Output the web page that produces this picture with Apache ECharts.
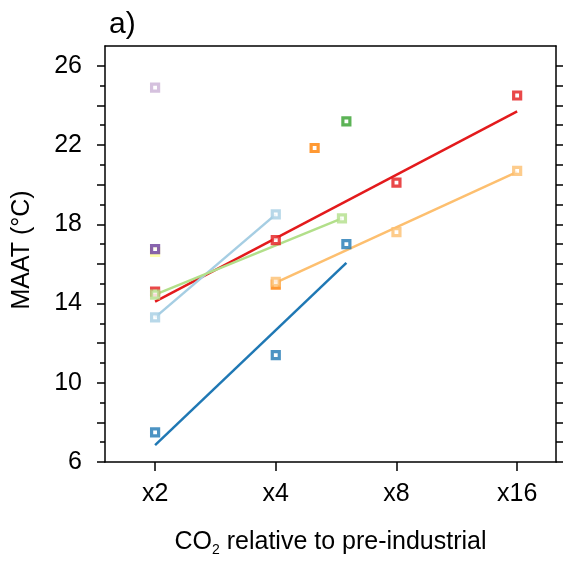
<!DOCTYPE html>
<html>
<head>
    <meta charset="utf-8">
    <style>
        html, body { margin: 0; padding: 0; background: #fff; }
        #chart { width: 563px; height: 564px; }
    </style>
    <script src="https://cdn.jsdelivr.net/npm/echarts@6/dist/echarts.min.js"></script>
</head>
<body>
<div id="chart"></div>
<script>
    // x axis: CO2 multiple (drawn on log2 scale)
    var xTickCo2 = [2, 4, 8, 16];
    var xTickLabels = ['x2', 'x4', 'x8', 'x16'];
    // y axis ticks
    var yLabelValues = [6, 10, 14, 18, 22, 26];
    var yMajorTicks = [6, 8, 10, 12, 14, 16, 18, 20, 22, 24, 26];
    var yMinorTicks = [7, 9, 11, 13, 15, 17, 19, 21, 23, 25];
    var yRightTicks = [6, 7, 8, 9, 10, 11, 12, 13, 14, 15, 16, 17, 18, 19, 20, 21, 22, 23, 24, 25, 26];

    // model points (CO2 multiple, MAAT)
    var redCo2 = [2, 4, 8, 16];
    var redTemp = [14.6, 17.2, 20.1, 24.5];
    var redFitCo2 = [2, 16];
    var redFitTemp = [14.1, 23.7];

    var ltOrangeCo2 = [4, 8, 16];
    var ltOrangeTemp = [15.1, 17.6, 20.7];
    var ltOrangeFitCo2 = [4, 16];
    var ltOrangeFitTemp = [15.05, 20.65];

    var ltBlueCo2 = [2, 4];
    var ltBlueTemp = [13.3, 18.5];

    var ltGreenCo2 = [2, 5.85];
    var ltGreenTemp = [14.45, 18.3];

    var blueCo2 = [2, 4, 6];
    var blueTemp = [7.5, 11.4, 17.0];
    var blueFitCo2 = [2, 6];
    var blueFitTemp = [6.85, 16.05];

    var lavenderCo2 = [2];
    var lavenderTemp = [24.9];
    var yellowCo2 = [2];
    var yellowTemp = [16.6];
    var purpleCo2 = [2];
    var purpleTemp = [16.75];
    var orangeCo2 = [4, 5];
    var orangeTemp = [14.95, 21.85];
    var greenCo2 = [6];
    var greenTemp = [23.2];

    var FONT = "'Liberation Sans', Arial, sans-serif";

    function pairs(co2, temp) {
        return co2.map(function (c, i) { return [Math.log2(c), temp[i]]; });
    }

    function fitLine(co2, temp, color) {
        return {
            type: 'line', data: pairs(co2, temp), symbol: 'none', z: 2,
            lineStyle: { color: color, width: 2.5 }, silent: true
        };
    }

    function points(co2, temp, color, z) {
        return {
            type: 'scatter', data: pairs(co2, temp), symbol: 'rect', symbolSize: 7, z: z || 3,
            itemStyle: { color: '#fff', borderColor: color, borderWidth: 3.2 }
        };
    }

    var myChart = echarts.init(document.getElementById('chart'));
    var option = {
        animation: false,
        title: {
            text: 'a)', left: 104, top: 5,
            textStyle: { fontFamily: FONT, fontSize: 30, fontWeight: 'normal', color: '#000' }
        },
        grid: { left: 105, right: 7, top: 46, bottom: 102, outerBoundsMode: 'none' },
        xAxis: [{
            type: 'value', min: Math.log2(1.5), max: Math.log2(20),
            position: 'bottom',
            axisLine: { show: true, lineStyle: { color: '#000', width: 1.5 } },
            axisTick: { show: true, length: 9, customValues: xTickCo2.map(Math.log2), lineStyle: { color: '#000', width: 1.5 } },
            axisLabel: {
                customValues: xTickCo2.map(Math.log2), margin: 20,
                fontFamily: FONT, fontSize: 25, color: '#000',
                formatter: function (v) {
                    var i = xTickCo2.map(Math.log2).findIndex(function (t) { return Math.abs(t - v) < 1e-6; });
                    return i >= 0 ? xTickLabels[i] : '';
                }
            },
            splitLine: { show: false },
            name: '{n|CO}{s|2}{n| relative to pre-industrial}',
            nameLocation: 'middle', nameGap: 65,
            nameTextStyle: {
                rich: {
                    n: { fontFamily: FONT, fontSize: 25, color: '#000' },
                    s: { fontFamily: FONT, fontSize: 14, color: '#000', padding: [16, 0, 0, 0] }
                }
            }
        }, {
            type: 'value', min: Math.log2(1.5), max: Math.log2(20),
            position: 'top',
            axisLine: { show: true, lineStyle: { color: '#000', width: 1.5 } },
            axisTick: { show: false }, axisLabel: { show: false }, splitLine: { show: false }
        }],
        yAxis: [{
            type: 'value', min: 6, max: 27, position: 'left',
            axisLine: { show: true, lineStyle: { color: '#000', width: 1.5 } },
            axisTick: { show: true, length: 8, customValues: yMajorTicks, lineStyle: { color: '#000', width: 1.5 } },
            axisLabel: { customValues: yLabelValues, margin: 23, fontFamily: FONT, fontSize: 25, color: '#000' },
            splitLine: { show: false },
            name: 'MAAT (°C)', nameLocation: 'middle', nameGap: 70, nameRotate: 90,
            nameTextStyle: { fontFamily: FONT, fontSize: 25, color: '#000', padding: [0, 0, 0, 8] }
        }, {
            type: 'value', min: 6, max: 27, position: 'left',
            axisLine: { show: false },
            axisTick: { show: true, length: 5, customValues: yMinorTicks, lineStyle: { color: '#000', width: 1.5 } },
            axisLabel: { show: false }, splitLine: { show: false }
        }, {
            type: 'value', min: 6, max: 27, position: 'right',
            axisLine: { show: true, lineStyle: { color: '#000', width: 1.5 } },
            axisTick: { show: true, length: 7, customValues: yRightTicks, lineStyle: { color: '#000', width: 1.5 } },
            axisLabel: { show: false }, splitLine: { show: false }
        }],
        series: [
            fitLine(redFitCo2, redFitTemp, '#e31a1c'),
            fitLine(ltOrangeFitCo2, ltOrangeFitTemp, '#fdbf6f'),
            fitLine(ltBlueCo2, ltBlueTemp, '#a6cee3'),
            fitLine(ltGreenCo2, ltGreenTemp, '#b2df8a'),
            fitLine(blueFitCo2, blueFitTemp, '#1f78b4'),
            points(yellowCo2, yellowTemp, '#ffff99', 3),
            points(purpleCo2, purpleTemp, '#6a3d9a', 4),
            points(lavenderCo2, lavenderTemp, '#cab2d6', 4),
            points(orangeCo2, orangeTemp, '#ff7f00', 3),
            points(redCo2, redTemp, '#e31a1c', 4),
            points(ltOrangeCo2, ltOrangeTemp, '#fdbf6f', 5),
            points(ltBlueCo2, ltBlueTemp, '#a6cee3', 5),
            points(ltGreenCo2, ltGreenTemp, '#b2df8a', 6),
            points(blueCo2, blueTemp, '#1f78b4', 5),
            points(greenCo2, greenTemp, '#33a02c', 5)
        ]
    };
    myChart.setOption(option);
</script>
</body>
</html>
